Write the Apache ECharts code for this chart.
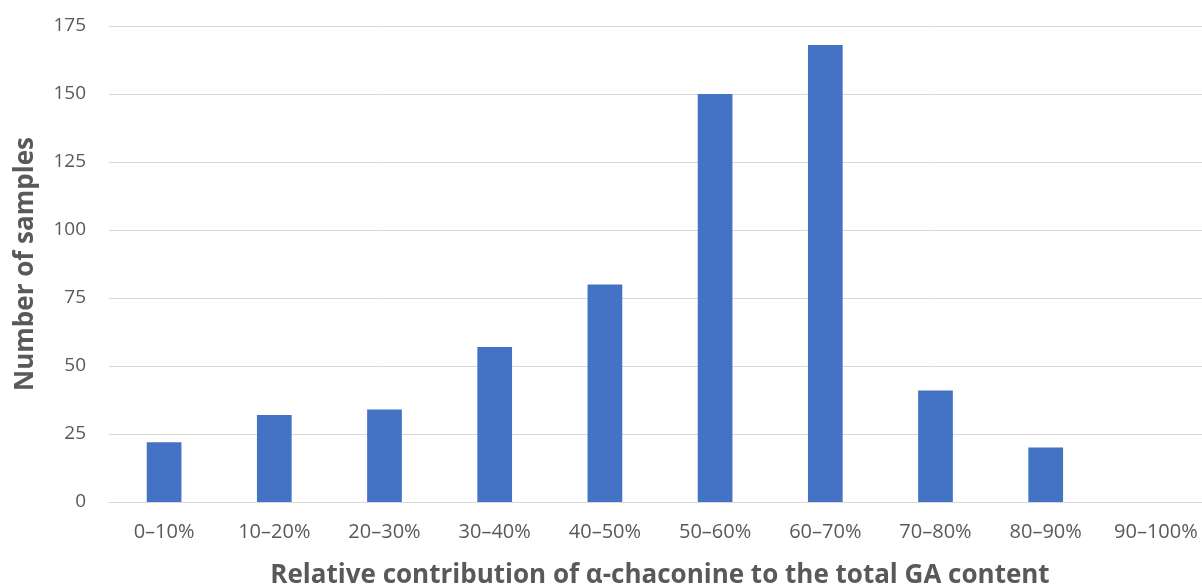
<!DOCTYPE html>
<html><head><meta charset="utf-8">
<script src="https://cdn.jsdelivr.net/npm/echarts@6/dist/echarts.min.js"></script>
<style>html,body{margin:0;padding:0;background:#fff}#c{width:1202px;height:586px}</style>
</head><body><div id="c"></div>
<script>
const categories = ['0–10%','10–20%','20–30%','30–40%','40–50%','50–60%','60–70%','70–80%','80–90%','90–100%'];
const samples = [22, 32, 34, 57, 80, 150, 168, 41, 20, 0];
const yTicks = {min: 0, max: 175, interval: 25};
const chart = echarts.init(document.getElementById('c'), null, {renderer: 'canvas'});
const font = '"Open Sans", sans-serif';
chart.setOption({
  animation: false,
  grid: {left: 109, top: 26, width: 1102, bottom: 84, containLabel: false, outerBoundsMode: 'none'},
  xAxis: {
    type: 'category', data: categories,
    axisLine: {show: true, lineStyle: {color: '#d9d9d9', width: 1}},
    axisTick: {show: false},
    axisLabel: {color: '#595959', fontSize: 20, fontFamily: font, margin: 20, interval: 0},
    name: 'Relative contribution of α-chaconine to the total GA content',
    nameLocation: 'middle', nameGap: 61,
    nameTextStyle: {color: '#595959', fontSize: 26, fontWeight: 'bold', fontFamily: font}
  },
  yAxis: {
    type: 'value', min: yTicks.min, max: yTicks.max, interval: yTicks.interval,
    axisLine: {show: false}, axisTick: {show: false},
    splitLine: {lineStyle: {color: '#d9d9d9', width: 1}},
    axisLabel: {color: '#595959', fontSize: 19, fontFamily: font, margin: 23},
    name: 'Number of samples', nameLocation: 'middle', nameGap: 70, nameRotate: 90,
    nameTextStyle: {color: '#595959', fontSize: 26, fontWeight: 'bold', fontFamily: font}
  },
  series: [{
    type: 'bar', data: samples, barWidth: '31.5%',
    itemStyle: {color: '#4472C4'}
  }]
});
</script></body></html>
